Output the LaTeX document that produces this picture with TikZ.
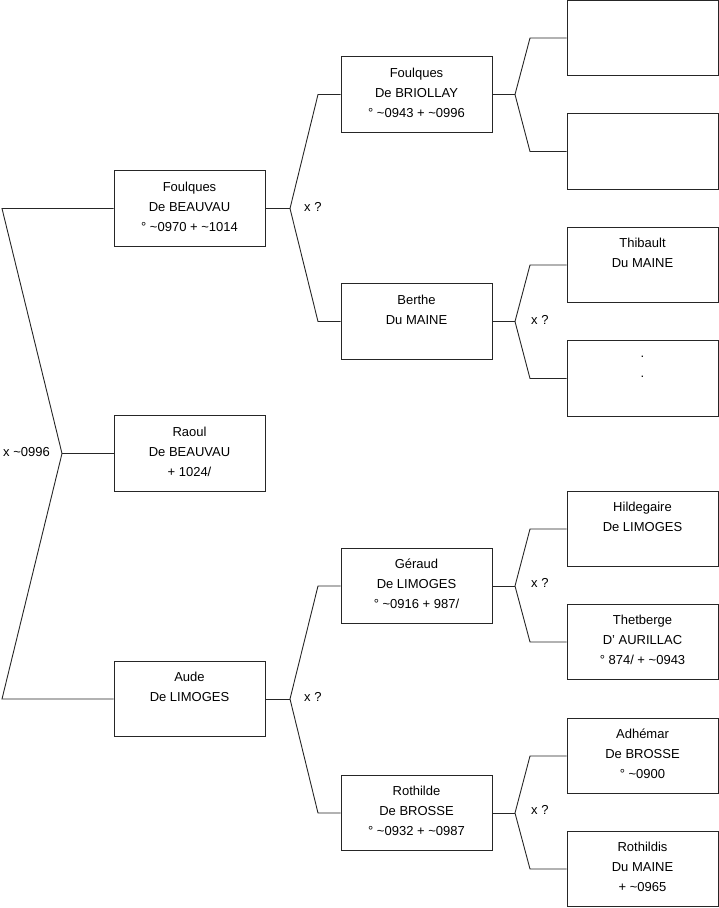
\documentclass[tikz,border=0pt]{standalone}
\usepackage{fontspec}
\setmainfont{Liberation Sans}
\begin{document}
\begin{tikzpicture}[x=1pt,y=-1pt,
  person/.style={draw=black!85,line width=0.9pt,minimum width=151pt,minimum height=75.5pt,
    inner sep=0pt,align=center,text depth=4pt,font=\fontsize{13}{20}\selectfont},
  wire/.style={draw=black!85,line width=0.9pt},
  lbl/.style={anchor=west,inner sep=0pt,font=\fontsize{13}{16}\selectfont}]
\useasboundingbox (0,0) rectangle (719,908);
% column 1
\node[person] (fbeau) at (189.5,208.5) {Foulques\\De BEAUVAU\\° \char`~0970 + \char`~1014};
\node[person] (raoul) at (189.5,453.5) {Raoul\\De BEAUVAU\\+ 1024/};
\node[person] (aude)  at (189.5,699) {Aude\\De LIMOGES\\~};
% column 2
\node[person] (fbri) at (416.5,94.5) {Foulques\\De BRIOLLAY\\° \char`~0943 + \char`~0996};
\node[person] (berthe) at (416.5,321.5) {Berthe\\Du MAINE\\~};
\node[person] (geraud) at (416.5,586) {Géraud\\De LIMOGES\\° \char`~0916 + 987/};
\node[person] (rothilde) at (416.5,813) {Rothilde\\De BROSSE\\° \char`~0932 + \char`~0987};
% column 3
\node[person] (e1) at (642.5,38) {~\\~\\~};
\node[person] (e2) at (642.5,151.5) {~\\~\\~};
\node[person] (thib) at (642.5,265) {Thibault\\Du MAINE\\~};
\node[person] (dots) at (642.5,378.5) {.\\.\\~};
\node[person] (hild) at (642.5,529) {Hildegaire\\De LIMOGES\\~};
\node[person] (thet) at (642.5,642) {Thetberge\\D' AURILLAC\\° 874/ + \char`~0943};
\node[person] (adh) at (642.5,756) {Adhémar\\De BROSSE\\° \char`~0900};
\node[person] (rothildis) at (642.5,869) {Rothildis\\Du MAINE\\+ \char`~0965};
% root fork
\coordinate (r0) at (62,453.5);
\coordinate (r1) at (2,208.5);
\coordinate (r2) at (2,699);
\draw[wire] (raoul.west) -- (r0);
\draw[wire] (fbeau.west) -- (r1) -- (r0) -- (r2) -- (aude.west);
\node[lbl] (l0) at (3,452) {x \char`~0996};
% fork Foulques de Beauvau
\coordinate (a0) at (290,208.5);
\coordinate (a1) at (318,94.5);
\coordinate (a2) at (318,321.5);
\draw[wire] (fbeau.east) -- (a0);
\draw[wire] (fbri.west) -- (a1) -- (a0) -- (a2) -- (berthe.west);
\node[lbl] (la) at (304,206.5) {x ?};
% fork Aude
\coordinate (b0) at (290,699);
\coordinate (b1) at (318,586);
\coordinate (b2) at (318,813);
\draw[wire] (aude.east) -- (b0);
\draw[wire] (geraud.west) -- (b1) -- (b0) -- (b2) -- (rothilde.west);
\node[lbl] (lb) at (304,696.5) {x ?};
% fork Briollay
\coordinate (c0) at (515,94.5);
\coordinate (c1) at (530,38);
\coordinate (c2) at (530,151.5);
\draw[wire] (fbri.east) -- (c0);
\draw[wire] (e1.west) -- (c1) -- (c0) -- (c2) -- (e2.west);
% fork Berthe
\coordinate (d0) at (515,321.5);
\coordinate (d1) at (530,265);
\coordinate (d2) at (530,378.5);
\draw[wire] (berthe.east) -- (d0);
\draw[wire] (thib.west) -- (d1) -- (d0) -- (d2) -- (dots.west);
\node[lbl] (ld) at (531,319.5) {x ?};
% fork Geraud
\coordinate (g0) at (515,586);
\coordinate (g1) at (530,529);
\coordinate (g2) at (530,642);
\draw[wire] (geraud.east) -- (g0);
\draw[wire] (hild.west) -- (g1) -- (g0) -- (g2) -- (thet.west);
\node[lbl] (lg) at (531,582.5) {x ?};
% fork Rothilde
\coordinate (h0) at (515,813);
\coordinate (h1) at (530,756);
\coordinate (h2) at (530,869);
\draw[wire] (rothilde.east) -- (h0);
\draw[wire] (adh.west) -- (h1) -- (h0) -- (h2) -- (rothildis.west);
\node[lbl] (lh) at (531,809.5) {x ?};
\end{tikzpicture}
\end{document}
